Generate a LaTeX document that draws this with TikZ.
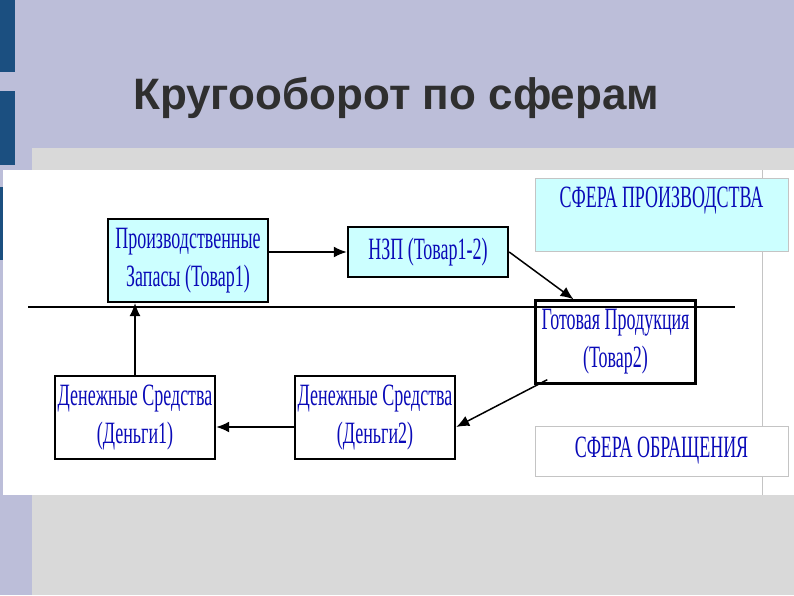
\documentclass[tikz,border=0pt]{standalone}
\usepackage{fontspec}
\setmainfont{Liberation Serif}
\newfontfamily\titlefont{Liberation Sans}
\newfontfamily\narrowserif[FakeStretch=0.58]{Liberation Serif}
\usepackage{tikz}
\usetikzlibrary{arrows.meta,positioning}
\definecolor{slidebg}{HTML}{BCBED9}
\definecolor{panelgray}{HTML}{D9D9D9}
\definecolor{barblue}{HTML}{1B4F80}
\definecolor{boxcyan}{HTML}{CCFFFF}
\definecolor{textblue}{HTML}{0A0AB8}
\definecolor{titlegray}{HTML}{2F2F2F}
\definecolor{framegray}{HTML}{C4C4C4}

\begin{document}
\begin{tikzpicture}[x=1pt,y=-1pt,
      box/.style={draw=black,line width=2.4pt,minimum width=160pt,minimum height=83pt,inner sep=0pt,align=center,fill=white,text=textblue,font=\narrowserif\fontsize{31}{38}\selectfont},
      sphere/.style={draw=framegray,line width=0.8pt,minimum width=253pt,inner sep=0pt,align=center,text=textblue,font=\narrowserif\fontsize{31}{38}\selectfont},
      arr/.style={-{Latex[length=13pt,width=11pt]},line width=1.8pt}
    ]
    % slide background
    \fill[slidebg] (0,0) rectangle (794,595);
    \fill[barblue] (0,0) rectangle (15,72);
    \fill[barblue] (0,91) rectangle (15,165);
    \fill[barblue] (0,187) rectangle (15,260);
    \fill[panelgray] (32,148) rectangle (794,595);
    \fill[white] (3,170) rectangle (794,495);
    \draw[framegray] (762,170) -- (762,495);
    \node[anchor=base west,inner sep=0pt,text=titlegray,font=\titlefont\bfseries\fontsize{44}{52}\selectfont] (title) at (133,109) {Кругооборот по сферам};
    % spheres
    \node[sphere,fill=boxcyan,minimum height=73pt] (prod) at (661.5,214.5) {СФЕРА ПРОИЗВОДСТВА\\[-14pt] \strut};
    \node[sphere,fill=white,minimum height=50pt] (circ) at (661.5,451) {СФЕРА ОБРАЩЕНИЯ};
    % cycle
    \node[box,fill=boxcyan] (stock) at (188,260.5) {Производственные\\Запасы (Товар1)};
    \node[box,fill=boxcyan,minimum height=50pt] (wip) at (428,252) {НЗП (Товар1-2)};
    \node[box] (goods) at (615.5,342) {Готовая Продукция\\(Товар2)};
    \node[box] (money2) at (375,417.5) {Денежные Средства\\(Деньги2)};
    \node[box] (money1) at (135,417.5) {Денежные Средства\\(Деньги1)};
    \draw[arr] (stock.east |- wip.west) -- (wip.west);
    \draw[arr,line width=1.5pt] (wip.east) -- ([xshift=-42pt]goods.north);
    \draw[arr,line width=1.5pt] ([xshift=13pt,yshift=5pt]goods.south west) -- ([yshift=-9.5pt]money2.east);
    \draw[arr] ([yshift=-9.5pt]money2.west) -- ([yshift=-9.5pt]money1.east);
    \draw[arr,line width=1.1pt] (money1.north) -- (money1.north |- stock.south);
    % border between spheres
    \draw[line width=1.8pt] (28,307) -- (735,307);
  \end{tikzpicture}
\end{document}
